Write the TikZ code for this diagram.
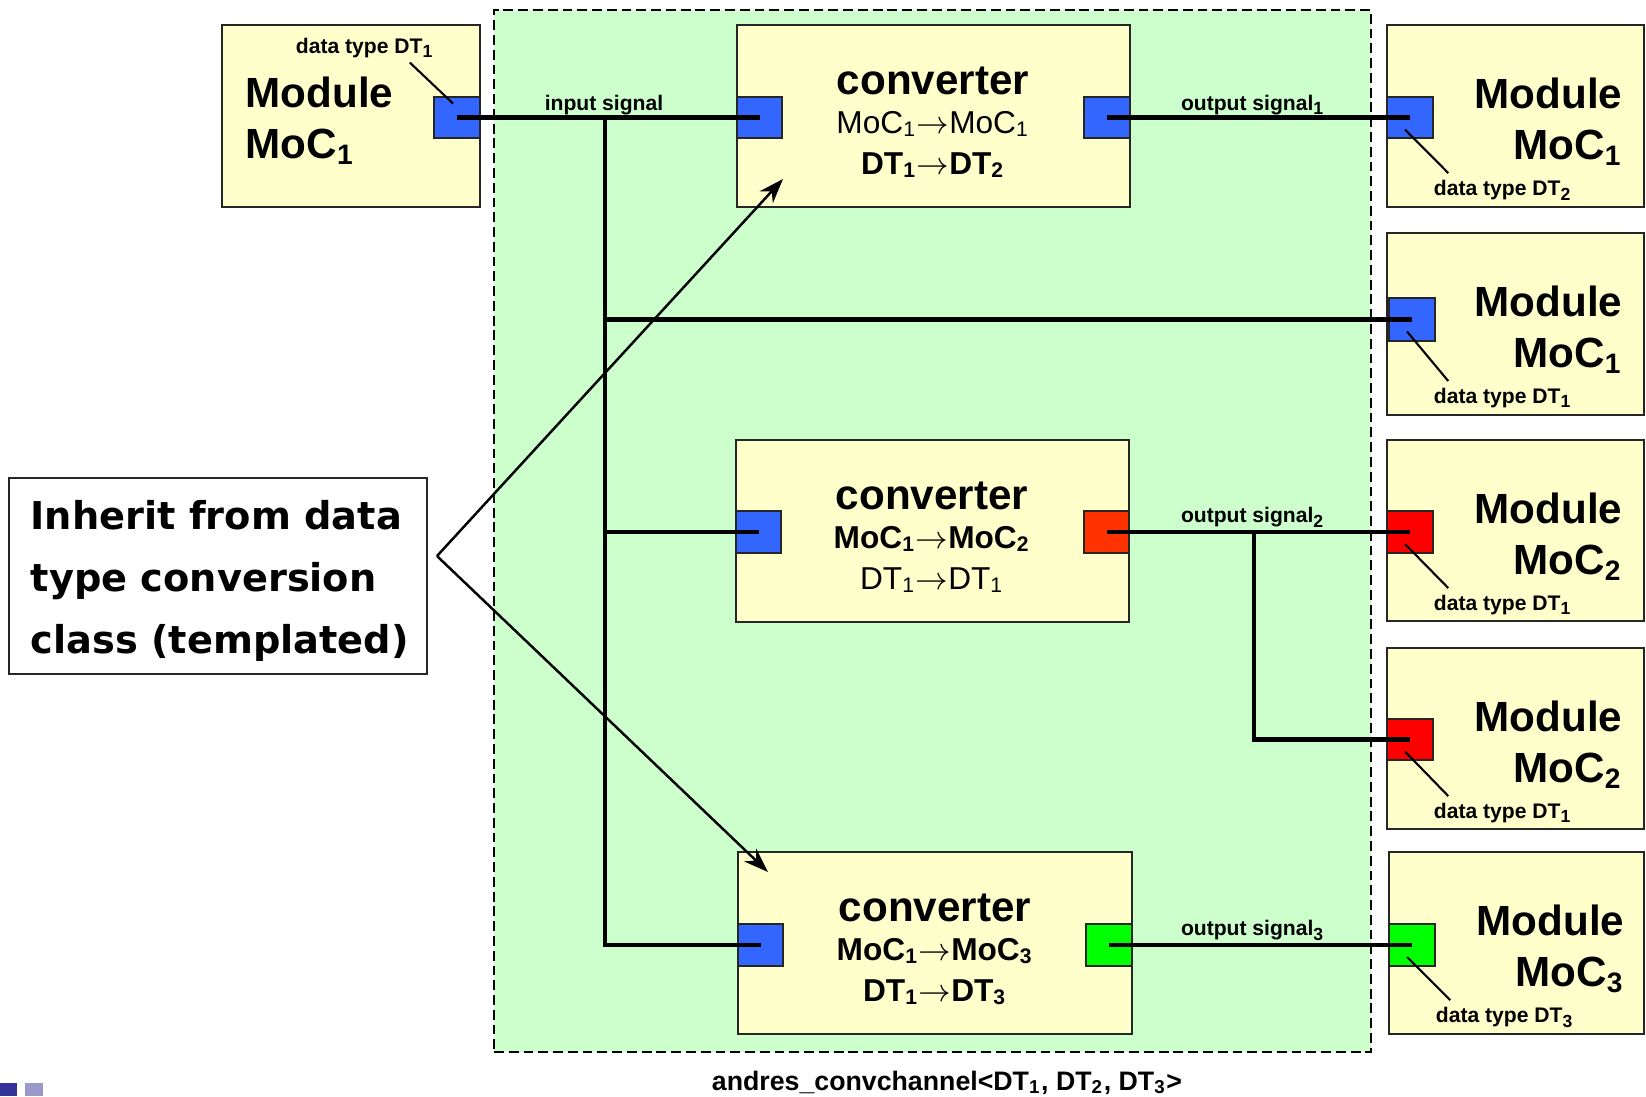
\documentclass[tikz,border=0pt]{standalone}
\usepackage{fontspec}
\setmainfont{Liberation Sans}
\newfontfamily\notefont{DejaVu Sans}
\usetikzlibrary{arrows.meta,fit,calc}
\definecolor{ChanGreen}{HTML}{CCFFCC}
\definecolor{BoxYellow}{HTML}{FFFFCC}
\definecolor{PortBlue}{HTML}{3366FF}
\definecolor{PortOrange}{HTML}{FF3300}
\definecolor{PortRed}{HTML}{FF0000}
\definecolor{PortGreen}{HTML}{00FF00}
\definecolor{SlideNavy}{HTML}{333399}
\definecolor{SlideLilac}{HTML}{9999CC}
\newcommand{\conv}{$\rightarrow$}

\tikzset{
  unitbox/.style={draw=black!85, line width=0.7pt, fill=BoxYellow, inner sep=0pt},
  port/.style={draw=black!85, line width=0.7pt, inner sep=0pt},
  wire/.style={line width=1.4pt},
  leader/.style={line width=0.6pt},
  bigtxt/.style={font=\fontsize{12}{14.6}\selectfont\bfseries, inner sep=0pt},
  midtxt/.style={font=\fontsize{9}{11}\selectfont, inner sep=0pt, anchor=base},
  tinytxt/.style={font=\fontsize{6}{7}\selectfont\bfseries, inner sep=0pt, anchor=base},
}

\begin{document}
\begin{tikzpicture}[x=0.01cm,y=-0.01cm]
\useasboundingbox (0,0) rectangle (1646,1096);

% the channel
\node[draw, dash pattern={on 2.8pt off 1.4pt}, line width=0.6pt, fill=ChanGreen, inner sep=0pt,
      fit={(494,10) (1371,1052)}] (chan) {};
\node[font=\fontsize{7.6}{9}\selectfont\bfseries, anchor=base, inner sep=0pt] (chanlbl) at (947,1090)
      {andres\_convchannel<DT\textsubscript{1}, DT\textsubscript{2}, DT\textsubscript{3}>};

% source module
\node[unitbox, fit={(222,25) (480,207)}] (mL) {};
\node[port, fill=PortBlue, fit={(434,97) (480,138)}] (mLp) {};
\node[bigtxt, anchor=north west, align=left] (mLt) at (245,76) {Module\\MoC\textsubscript{1}};
\node[tinytxt] (mLl) at (365,53) {data type DT\textsubscript{1}};

% converters
\node[unitbox, fit={(737,25) (1130,207)}] (c1) {};
\node[port, fill=PortBlue, fit={(737,97) (782,138)}] (c1in) {};
\node[port, fill=PortBlue, fit={(1084,97) (1130,138)}] (c1out) {};
\node[bigtxt, anchor=base] (c1a) at (933,94) {converter};
\node[midtxt] (c1b) at (933,133) {MoC\textsubscript{1}\conv MoC\textsubscript{1}};
\node[midtxt, font=\fontsize{9}{11}\selectfont\bfseries] (c1c) at (933,174) {DT\textsubscript{1}\conv DT\textsubscript{2}};

\node[unitbox, fit={(736,440) (1129,622)}] (c2) {};
\node[port, fill=PortBlue, fit={(736,511) (781,553)}] (c2in) {};
\node[port, fill=PortOrange, fit={(1084,511) (1129,553)}] (c2out) {};
\node[bigtxt, anchor=base] (c2a) at (932,509) {converter};
\node[midtxt, font=\fontsize{9}{11}\selectfont\bfseries] (c2b) at (932,548) {MoC\textsubscript{1}\conv MoC\textsubscript{2}};
\node[midtxt] (c2c) at (932,589) {DT\textsubscript{1}\conv DT\textsubscript{1}};

\node[unitbox, fit={(738,852) (1132,1034)}] (c3) {};
\node[port, fill=PortBlue, fit={(738,924) (783,966)}] (c3in) {};
\node[port, fill=PortGreen, fit={(1086,924) (1132,966)}] (c3out) {};
\node[bigtxt, anchor=base] (c3a) at (935,921) {converter};
\node[midtxt, font=\fontsize{9}{11}\selectfont\bfseries] (c3b) at (935,960) {MoC\textsubscript{1}\conv MoC\textsubscript{3}};
\node[midtxt, font=\fontsize{9}{11}\selectfont\bfseries] (c3c) at (935,1001) {DT\textsubscript{1}\conv DT\textsubscript{3}};

% sink modules
\node[unitbox, fit={(1387,25) (1644,207)}] (m1) {};
\node[port, fill=PortBlue, fit={(1387,97) (1433,138)}] (m1p) {};
\node[bigtxt, anchor=north east, align=right] (m1t) at (1623,77) {Module\\MoC\textsubscript{1}};
\node[tinytxt] (m1l) at (1503,195) {data type DT\textsubscript{2}};

\node[unitbox, fit={(1387,233) (1644,415)}] (m2) {};
\node[port, fill=PortBlue, fit={(1389,298) (1435,341)}] (m2p) {};
\node[bigtxt, anchor=north east, align=right] (m2t) at (1623,285) {Module\\MoC\textsubscript{1}};
\node[tinytxt] (m2l) at (1503,403) {data type DT\textsubscript{1}};

\node[unitbox, fit={(1387,440) (1644,621)}] (m3) {};
\node[port, fill=PortRed, fit={(1387,511) (1433,553)}] (m3p) {};
\node[bigtxt, anchor=north east, align=right] (m3t) at (1623,492) {Module\\MoC\textsubscript{2}};
\node[tinytxt] (m3l) at (1503,610) {data type DT\textsubscript{1}};

\node[unitbox, fit={(1387,648) (1644,829)}] (m4) {};
\node[port, fill=PortRed, fit={(1387,719) (1433,760)}] (m4p) {};
\node[bigtxt, anchor=north east, align=right] (m4t) at (1623,700) {Module\\MoC\textsubscript{2}};
\node[tinytxt] (m4l) at (1503,818) {data type DT\textsubscript{1}};

\node[unitbox, fit={(1389,852) (1644,1034)}] (m5) {};
\node[port, fill=PortGreen, fit={(1389,924) (1435,966)}] (m5p) {};
\node[bigtxt, anchor=north east, align=right] (m5t) at (1625,904) {Module\\MoC\textsubscript{3}};
\node[tinytxt] (m5l) at (1505,1022) {data type DT\textsubscript{3}};

% signals
\coordinate (tap) at (605,117.5);
\coordinate (split) at (1254,532);
\draw[wire] (mLp.center) -- (c1in.center);
\draw[wire] (tap) |- (c3in.center);
\draw[wire] (tap |- m2p.center) -- (m2p.center);
\draw[wire] (tap |- c2in.center) -- (c2in.center);
\draw[wire] (c1out.center) -- (m1p.center);
\draw[wire] (c2out.center) -- (m3p.center);
\draw[wire] (split) |- (m4p.center);
\draw[wire] (c3out.center) -- (m5p.center);

\node[tinytxt] (inlbl) at (604,110) {input signal};
\node[tinytxt] (out1lbl) at (1253,110) {output signal\textsubscript{1}};
\node[tinytxt] (out2lbl) at (1253,522) {output signal\textsubscript{2}};
\node[tinytxt] (out3lbl) at (1253,935) {output signal\textsubscript{3}};

% data type leaders
\draw[leader] ($(mLl.south east)+(-25,4)$) -- ($(mLp.center)+(-4,-14)$);
\foreach \m in {m1,m2,m3,m4,m5}
  \draw[leader] ($(\m p.center)+(-5,12)$) -- ($(\m l.north west)+(15,-6)$);

% inheritance note
\node[draw=black!85, line width=0.7pt, fill=white, inner sep=0pt, fit={(9,478) (427,674)}] (note) {};
\node[font=\notefont\fontsize{10.9}{17.6}\selectfont\bfseries, align=left, anchor=north west, inner sep=0pt]
      (notetxt) at (30,500) {Inherit from data\\type conversion\\class (templated)};
\coordinate (apex) at (437,556);
\coordinate (c1tip) at (783,179);
\coordinate (c3tip) at (768,872);
\draw[line width=0.7pt, -{Stealth[length=7pt,width=5pt]}] (apex) -- (c1tip);
\draw[line width=0.7pt, -{Stealth[length=7pt,width=5pt]}] (apex) -- (c3tip);

% slide footer squares
\fill[SlideNavy] (0,1083) rectangle (17,1096);
\fill[SlideLilac] (25,1083) rectangle (43,1096);
\end{tikzpicture}
\end{document}
